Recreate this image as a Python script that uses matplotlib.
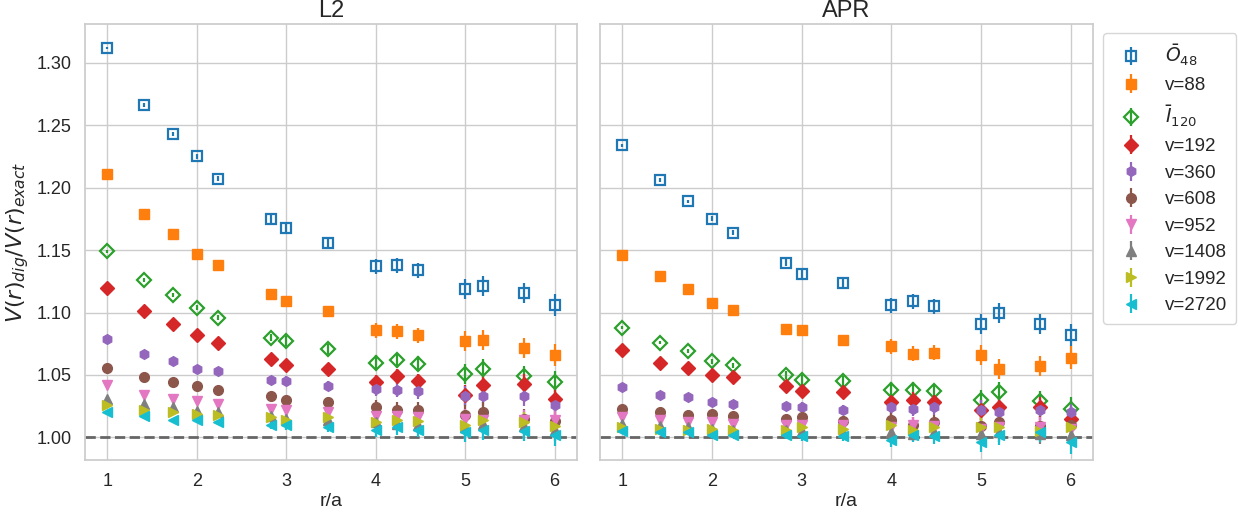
import numpy as np
import matplotlib
matplotlib.use("Agg")
import matplotlib.pyplot as plt
import seaborn as sns

sns.set_theme(style="whitegrid")
plt.rcParams['font.family'] = ['Liberation Sans', 'DejaVu Sans']
plt.rcParams['mathtext.fontset'] = 'dejavusans'

r = [1.0, 1.414, 1.732, 2.0, 2.236, 2.828, 3.0, 3.464, 4.0, 4.243, 4.472, 5.0, 5.196, 5.657, 6.0]

labels = [r'$\bar{O}_{48}$', 'v=88', r'$\bar{I}_{120}$', 'v=192', 'v=360', 'v=608',
          'v=952', 'v=1408', 'v=1992', 'v=2720']
markers = ['s', 's', 'D', 'D', 'h', 'o', 'v', '^', '>', '<']
hollow = [True, False, True, False, False, False, False, False, False, False]
colors = ['#1f77b4', '#ff7f0e', '#2ca02c', '#d62728', '#9467bd', '#8c564b',
          '#e377c2', '#7f7f7f', '#bcbd22', '#17becf']

# L2 panel
L2_O48 = [1.312, 1.266, 1.243, 1.225, 1.207, 1.175, 1.168, 1.156, 1.137, 1.138, 1.134, 1.119, 1.121, 1.116, 1.106]
L2_v88 = [1.211, 1.179, 1.163, 1.147, 1.138, 1.115, 1.109, 1.101, 1.086, 1.085, 1.082, 1.077, 1.078, 1.072, 1.066]
L2_I120 = [1.149, 1.126, 1.114, 1.104, 1.096, 1.080, 1.077, 1.071, 1.060, 1.062, 1.059, 1.051, 1.055, 1.049, 1.044]
L2_v192 = [1.120, 1.101, 1.091, 1.082, 1.076, 1.063, 1.058, 1.055, 1.044, 1.049, 1.045, 1.034, 1.042, 1.043, 1.031]
L2_v360 = [1.079, 1.067, 1.061, 1.055, 1.053, 1.046, 1.045, 1.041, 1.039, 1.038, 1.037, 1.033, 1.033, 1.033, 1.026]
L2_v608 = [1.056, 1.048, 1.044, 1.041, 1.038, 1.033, 1.030, 1.028, 1.024, 1.022, 1.022, 1.018, 1.020, 1.015, 1.013]
L2_v952 = [1.042, 1.034, 1.031, 1.029, 1.027, 1.023, 1.022, 1.020, 1.017, 1.017, 1.016, 1.015, 1.014, 1.014, 1.014]
L2_v1408 = [1.031, 1.027, 1.024, 1.021, 1.020, 1.017, 1.015, 1.014, 1.012, 1.011, 1.010, 1.008, 1.011, 1.009, 1.006]
L2_v1992 = [1.026, 1.022, 1.020, 1.019, 1.018, 1.016, 1.014, 1.016, 1.012, 1.014, 1.013, 1.010, 1.014, 1.012, 1.009]
L2_v2720 = [1.020, 1.017, 1.014, 1.014, 1.012, 1.010, 1.010, 1.008, 1.006, 1.008, 1.006, 1.004, 1.006, 1.005, 1.002]
L2_err = [0.001, 0.0015, 0.0015, 0.002, 0.002, 0.003, 0.004, 0.004, 0.006, 0.006, 0.006, 0.008, 0.008, 0.008, 0.009]

# APR panel
APR_O48 = [1.234, 1.206, 1.189, 1.175, 1.164, 1.140, 1.131, 1.124, 1.106, 1.109, 1.105, 1.091, 1.100, 1.091, 1.082]
APR_v88 = [1.146, 1.129, 1.119, 1.108, 1.102, 1.087, 1.086, 1.078, 1.073, 1.067, 1.068, 1.066, 1.055, 1.057, 1.064]
APR_I120 = [1.088, 1.076, 1.069, 1.061, 1.058, 1.050, 1.046, 1.045, 1.038, 1.038, 1.037, 1.030, 1.036, 1.029, 1.023]
APR_v192 = [1.070, 1.060, 1.056, 1.050, 1.048, 1.041, 1.037, 1.036, 1.028, 1.030, 1.028, 1.022, 1.024, 1.024, 1.015]
APR_v360 = [1.040, 1.034, 1.032, 1.028, 1.027, 1.025, 1.024, 1.022, 1.024, 1.023, 1.024, 1.022, 1.020, 1.022, 1.020]
APR_v608 = [1.023, 1.020, 1.018, 1.019, 1.017, 1.015, 1.016, 1.013, 1.014, 1.010, 1.012, 1.009, 1.012, 1.009, 1.010]
APR_v952 = [1.016, 1.014, 1.012, 1.012, 1.011, 1.010, 1.010, 1.010, 1.008, 1.010, 1.009, 1.007, 1.008, 1.008, 1.007]
APR_v1408 = [1.011, 1.009, 1.008, 1.007, 1.006, 1.006, 1.005, 1.004, 1.004, 1.003, 1.004, 1.003, 1.004, 1.003, 1.002]
APR_v1992 = [1.008, 1.007, 1.006, 1.007, 1.006, 1.006, 1.008, 1.007, 1.010, 1.006, 1.008, 1.008, 1.008, 1.005, 1.008]
APR_v2720 = [1.005, 1.004, 1.004, 1.002, 1.002, 1.002, 1.001, 1.0015, 0.998, 1.002, 1.001, 0.996, 1.002, 1.004, 0.996]
APR_err = [0.001, 0.0015, 0.0015, 0.002, 0.002, 0.003, 0.004, 0.004, 0.006, 0.006, 0.006, 0.008, 0.008, 0.008, 0.009]

L2_series = [L2_O48, L2_v88, L2_I120, L2_v192, L2_v360, L2_v608, L2_v952, L2_v1408, L2_v1992, L2_v2720]
APR_series = [APR_O48, APR_v88, APR_I120, APR_v192, APR_v360, APR_v608, APR_v952, APR_v1408, APR_v1992, APR_v2720]

fig = plt.figure(figsize=(12.38, 5.25), dpi=100)
ax1 = fig.add_axes([0.0687, 0.124, 0.3973, 0.830])
ax2 = fig.add_axes([0.4847, 0.124, 0.3982, 0.830], sharey=ax1)

for ax, series, err, title in [(ax1, L2_series, L2_err, 'L2'), (ax2, APR_series, APR_err, 'APR')]:
    ax.axhline(1.0, color='#666666', ls='--', lw=2.0, zorder=1.5)
    for vals, lab, m, h, c in zip(series, labels, markers, hollow, colors):
        ax.errorbar(r, vals, yerr=err, fmt=m, color=c, ms=7,
                    mfc='none' if h else c, mew=1.6 if h else 1.0,
                    elinewidth=1.6, capsize=0, label=lab, linestyle='none', zorder=2)
    ax.set_title(title, fontsize=17, pad=5)
    ax.set_xlabel('r/a', fontsize=14, labelpad=2)
    ax.set_xlim(0.75, 6.25)
    ax.set_xticks([1, 2, 3, 4, 5, 6])
    ax.tick_params(labelsize=13)

ax1.set_ylim(0.982, 1.331)
ax1.set_yticks([1.00, 1.05, 1.10, 1.15, 1.20, 1.25, 1.30])
ax1.set_yticklabels(['1.00', '1.05', '1.10', '1.15', '1.20', '1.25', '1.30'])
ax1.set_ylabel(r'$V(r)_{dig}/V(r)_{exact}$', fontsize=16, labelpad=4)
plt.setp(ax2.get_yticklabels(), visible=False)
ax2.tick_params(axis='y', length=0)

ax2.legend(loc='upper left', bbox_to_anchor=(1.020, 0.979), borderaxespad=0,
           fontsize=13.5, frameon=True,
           handletextpad=0.8, labelspacing=0.5, borderpad=0.5)

fig.savefig('out.png', dpi=100)
